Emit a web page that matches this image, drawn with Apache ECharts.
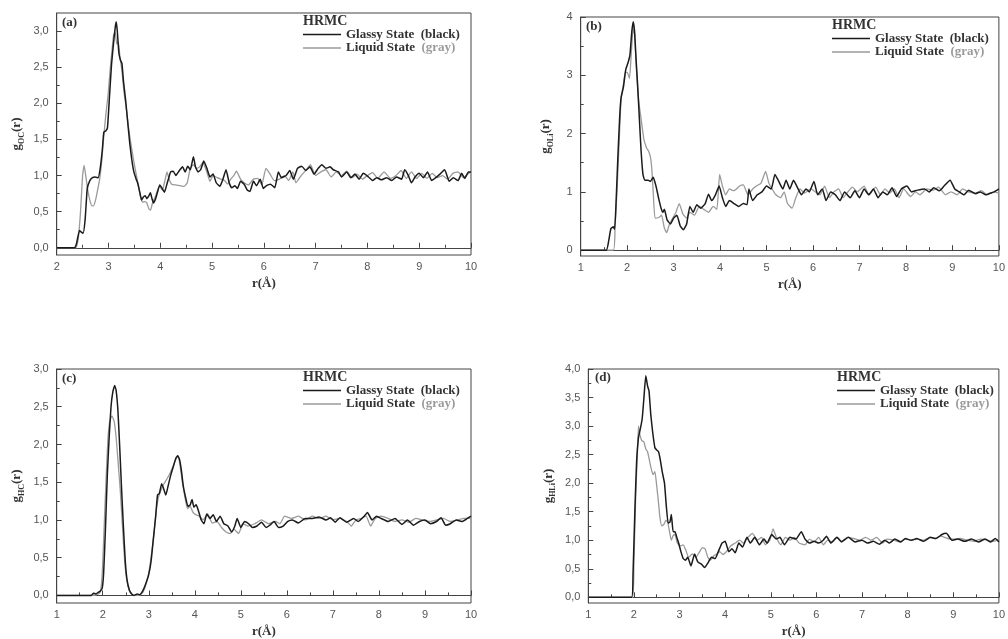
<!DOCTYPE html>
<html>
<head>
<meta charset="utf-8">
<script src="https://cdn.jsdelivr.net/npm/echarts@6/dist/echarts.min.js"></script>
<style>
  html, body { margin: 0; padding: 0; background: #fff; }
  #chart { width: 1008px; height: 639px; }
</style>
</head>
<body>
<div id="chart"></div>
<script>
// Partial pair distribution functions g(r), HRMC models: [r (Å), g(r)]

// (a) O–C
const gOC_glassy = [[2,0],[2.34,0],[2.38,0.05],[2.44,0.24],[2.47,0.22],[2.51,0.2],[2.55,0.4],[2.59,0.82],[2.64,0.93],[2.69,0.97],[2.74,0.98],[2.8,0.97],[2.84,1.1],[2.88,1.35],[2.91,1.6],[2.95,1.62],[2.98,1.66],[3.02,2.1],[3.06,2.55],[3.1,2.85],[3.13,3.05],[3.15,3.13],[3.17,3.0],[3.2,2.7],[3.23,2.6],[3.26,2.55],[3.29,2.3],[3.33,2.05],[3.37,1.75],[3.41,1.45],[3.45,1.22],[3.49,1.05],[3.53,0.96],[3.57,0.88],[3.61,0.75],[3.64,0.66],[3.67,0.7],[3.71,0.72],[3.74,0.68],[3.78,0.72],[3.81,0.76],[3.84,0.68],[3.87,0.62],[3.91,0.68],[3.95,0.78],[3.99,0.87],[4.03,0.83],[4.08,0.77],[4.12,0.86],[4.16,0.96],[4.2,1.05],[4.25,1.06],[4.3,1.0],[4.34,1.04],[4.38,1.08],[4.43,1.12],[4.48,1.05],[4.53,1.13],[4.58,1.08],[4.64,1.26],[4.68,1.12],[4.73,1.05],[4.78,1.08],[4.84,1.2],[4.9,1.1],[4.96,0.98],[5.02,1.02],[5.08,0.9],[5.15,0.85],[5.21,0.95],[5.27,1.08],[5.33,0.9],[5.38,0.83],[5.44,0.86],[5.49,0.82],[5.55,0.92],[5.62,0.88],[5.68,0.8],[5.73,0.78],[5.8,0.92],[5.86,0.86],[5.93,0.95],[5.99,0.82],[6.05,0.86],[6.13,0.88],[6.21,0.83],[6.28,1.05],[6.34,0.97],[6.43,1.0],[6.5,1.07],[6.57,0.95],[6.65,1.1],[6.73,1.13],[6.81,1.07],[6.89,1.12],[6.97,1.02],[7.05,1.1],[7.12,1.15],[7.2,1.1],[7.28,1.12],[7.34,1.08],[7.44,1.05],[7.5,0.98],[7.6,1.05],[7.68,0.97],[7.76,1.02],[7.84,0.95],[7.92,1.03],[8.02,0.98],[8.1,0.93],[8.18,0.97],[8.27,0.94],[8.37,0.97],[8.47,0.93],[8.56,0.98],[8.66,0.95],[8.72,1.08],[8.79,1.0],[8.85,0.9],[8.92,0.98],[9.0,1.03],[9.08,0.97],[9.16,1.05],[9.24,0.93],[9.32,0.97],[9.4,1.02],[9.49,1.08],[9.58,0.92],[9.66,0.97],[9.75,0.93],[9.82,1.03],[9.88,0.96],[9.95,1.05],[10,1.05]];
const gOC_liquid = [[2,0],[2.37,0],[2.42,0.15],[2.46,0.5],[2.5,1.0],[2.53,1.14],[2.56,1.0],[2.6,0.8],[2.64,0.66],[2.68,0.58],[2.71,0.58],[2.75,0.66],[2.79,0.8],[2.83,0.95],[2.87,1.2],[2.91,1.55],[2.95,1.85],[2.99,2.1],[3.03,2.45],[3.07,2.75],[3.1,2.95],[3.13,2.98],[3.16,2.82],[3.19,2.85],[3.22,2.65],[3.26,2.45],[3.3,2.15],[3.34,1.95],[3.38,1.7],[3.42,1.5],[3.46,1.32],[3.5,1.15],[3.54,1.0],[3.58,0.85],[3.62,0.7],[3.66,0.63],[3.7,0.64],[3.74,0.62],[3.78,0.54],[3.81,0.52],[3.85,0.62],[3.9,0.7],[3.95,0.8],[3.99,0.85],[4.04,0.8],[4.09,0.93],[4.13,1.05],[4.17,0.95],[4.22,0.88],[4.3,0.87],[4.38,0.86],[4.46,0.85],[4.52,0.9],[4.58,1.1],[4.64,1.15],[4.7,1.1],[4.76,1.12],[4.82,1.18],[4.9,1.05],[4.96,0.92],[5.02,1.0],[5.1,0.97],[5.17,0.95],[5.24,0.93],[5.3,0.88],[5.36,0.95],[5.42,1.0],[5.47,1.06],[5.55,0.95],[5.62,0.9],[5.7,0.87],[5.8,0.95],[5.88,0.96],[5.96,0.87],[6.04,1.1],[6.12,1.02],[6.2,0.93],[6.3,0.95],[6.4,1.0],[6.48,0.93],[6.56,1.05],[6.62,0.9],[6.72,1.0],[6.82,1.08],[6.9,1.15],[7.0,1.0],[7.1,1.05],[7.2,1.08],[7.3,0.98],[7.4,1.05],[7.5,1.0],[7.6,1.06],[7.7,0.97],[7.8,1.02],[7.9,0.95],[8.0,1.0],[8.1,1.04],[8.2,0.96],[8.32,1.05],[8.45,0.96],[8.55,1.0],[8.65,1.07],[8.75,0.96],[8.85,1.05],[8.95,0.96],[9.05,1.03],[9.15,0.96],[9.25,1.03],[9.35,0.97],[9.45,1.0],[9.55,0.95],[9.65,1.03],[9.75,1.05],[9.85,0.97],[9.95,1.03],[10,1.05]];

// (b) O–Li
const gOLi_glassy = [[1,0],[1.55,0],[1.6,0.15],[1.65,0.37],[1.7,0.4],[1.73,0.36],[1.76,0.8],[1.8,1.6],[1.84,2.3],[1.87,2.62],[1.92,2.8],[1.97,3.1],[2.02,3.22],[2.06,3.35],[2.1,3.75],[2.13,3.92],[2.16,3.75],[2.19,3.3],[2.22,2.9],[2.26,2.3],[2.3,1.7],[2.34,1.3],[2.38,1.2],[2.45,1.2],[2.5,1.18],[2.56,1.25],[2.62,1.1],[2.68,0.88],[2.73,0.72],[2.77,0.65],[2.8,0.7],[2.86,0.52],[2.93,0.45],[3.0,0.55],[3.07,0.6],[3.14,0.42],[3.21,0.35],[3.28,0.45],[3.35,0.75],[3.42,0.65],[3.5,0.78],[3.58,0.72],[3.68,0.8],[3.75,0.96],[3.82,0.85],[3.9,0.95],[3.98,1.1],[4.05,0.9],[4.12,0.75],[4.2,0.85],[4.3,0.8],[4.4,0.75],[4.5,0.8],[4.58,0.78],[4.62,1.05],[4.7,0.85],[4.8,0.95],[4.9,1.0],[5.0,1.1],[5.1,1.05],[5.18,1.3],[5.25,1.2],[5.35,1.05],[5.42,1.2],[5.5,1.05],[5.58,1.2],[5.68,1.05],[5.75,0.95],[5.85,1.05],[5.92,1.0],[6.02,1.18],[6.1,0.95],[6.2,1.05],[6.28,0.85],[6.38,1.0],[6.48,0.95],[6.58,0.85],[6.68,1.0],[6.8,0.9],[6.9,1.02],[7.0,0.9],[7.1,1.05],[7.2,0.95],[7.3,1.05],[7.4,0.9],[7.5,1.0],[7.6,0.95],[7.7,1.07],[7.8,0.92],[7.9,1.05],[8.02,1.1],[8.12,1.0],[8.25,1.03],[8.4,1.05],[8.5,1.0],[8.6,1.07],[8.72,1.02],[8.82,1.1],[8.95,1.2],[9.05,1.05],[9.15,1.0],[9.25,0.95],[9.35,1.03],[9.5,0.97],[9.6,1.0],[9.72,0.95],[9.82,0.98],[9.9,1.0],[10,1.05]];
const gOLi_liquid = [[1,0],[1.7,0],[1.74,0.4],[1.78,1.0],[1.83,1.9],[1.87,2.6],[1.92,2.85],[1.96,3.05],[2.0,3.05],[2.05,2.95],[2.09,3.4],[2.13,3.8],[2.16,3.7],[2.2,3.1],[2.25,2.55],[2.3,2.25],[2.36,1.9],[2.42,1.75],[2.46,1.7],[2.5,1.6],[2.53,1.4],[2.56,1.0],[2.6,0.55],[2.68,0.56],[2.74,0.6],[2.8,0.38],[2.85,0.3],[2.9,0.42],[2.98,0.55],[3.05,0.65],[3.12,0.8],[3.2,0.62],[3.28,0.55],[3.35,0.65],[3.45,0.6],[3.55,0.75],[3.65,0.7],[3.75,0.65],[3.85,0.75],[3.93,0.7],[3.99,1.3],[4.05,1.1],[4.12,0.95],[4.2,1.05],[4.3,1.02],[4.42,1.1],[4.5,1.12],[4.6,0.95],[4.7,1.05],[4.78,1.1],[4.88,1.15],[4.98,1.35],[5.05,1.15],[5.12,1.05],[5.2,0.95],[5.3,0.9],[5.38,1.0],[5.45,0.8],[5.55,0.72],[5.63,0.9],[5.72,1.05],[5.82,0.98],[5.95,1.05],[6.05,1.0],[6.15,0.95],[6.25,1.1],[6.35,0.9],[6.45,1.0],[6.55,1.05],[6.65,0.9],[6.75,1.0],[6.85,1.08],[6.95,1.0],[7.1,1.1],[7.2,0.95],[7.35,1.08],[7.45,0.95],[7.55,1.05],[7.65,0.98],[7.75,1.05],[7.85,0.9],[7.95,1.05],[8.1,0.92],[8.2,1.0],[8.3,0.95],[8.45,1.05],[8.6,1.03],[8.7,1.08],[8.85,0.95],[8.97,1.0],[9.1,0.95],[9.22,1.05],[9.35,1.0],[9.5,0.98],[9.62,1.02],[9.75,0.95],[9.9,1.0],[10,0.98]];

// (c) H–C
const gHC_glassy = [[1,0],[1.75,0],[1.8,0.03],[1.85,0.02],[1.9,0.04],[1.95,0.06],[1.99,0.1],[2.02,0.3],[2.06,0.9],[2.1,1.6],[2.14,2.1],[2.18,2.5],[2.22,2.7],[2.26,2.78],[2.29,2.72],[2.33,2.45],[2.37,1.95],[2.41,1.4],[2.45,0.9],[2.49,0.45],[2.53,0.2],[2.58,0.07],[2.63,0.02],[2.68,0.0],[2.75,0.02],[2.8,0.01],[2.85,0.04],[2.9,0.1],[2.95,0.18],[3.0,0.28],[3.05,0.45],[3.1,0.75],[3.15,1.05],[3.19,1.33],[3.23,1.35],[3.28,1.48],[3.32,1.42],[3.37,1.33],[3.42,1.45],[3.48,1.6],[3.54,1.72],[3.59,1.82],[3.63,1.85],[3.67,1.8],[3.71,1.65],[3.75,1.45],[3.8,1.3],[3.85,1.18],[3.9,1.2],[3.94,1.27],[3.98,1.17],[4.03,1.2],[4.08,1.12],[4.14,1.0],[4.2,0.95],[4.26,1.08],[4.33,1.02],[4.4,1.07],[4.47,0.98],[4.55,1.05],[4.63,0.95],[4.72,0.92],[4.8,0.84],[4.87,0.92],[4.92,1.02],[5.0,0.9],[5.08,0.98],[5.17,0.95],[5.25,0.9],[5.35,0.92],[5.45,0.97],[5.55,0.9],[5.63,0.93],[5.72,0.98],[5.82,0.9],[5.92,0.92],[6.02,0.98],[6.12,1.0],[6.25,0.96],[6.4,1.02],[6.55,1.02],[6.7,1.04],[6.85,1.0],[6.95,1.03],[7.05,0.97],[7.15,1.03],[7.3,0.97],[7.45,1.02],[7.55,0.98],[7.68,1.05],[7.75,1.1],[7.85,1.0],[7.95,1.05],[8.05,1.02],[8.2,0.98],[8.35,1.02],[8.5,0.94],[8.62,1.0],[8.75,0.93],[8.88,0.98],[9.0,1.0],[9.12,0.95],[9.25,0.98],[9.35,1.03],[9.45,0.93],[9.55,0.95],[9.68,1.0],[9.8,0.98],[9.92,1.02],[10,1.05]];
const gHC_liquid = [[1,0],[1.8,0],[1.9,0.02],[1.95,0.05],[1.99,0.3],[2.03,0.9],[2.07,1.5],[2.11,2.05],[2.15,2.3],[2.2,2.38],[2.25,2.3],[2.29,2.1],[2.33,1.8],[2.38,1.4],[2.42,1.0],[2.46,0.6],[2.5,0.3],[2.55,0.12],[2.6,0.04],[2.67,0.0],[2.75,0.0],[2.82,0.01],[2.88,0.05],[2.94,0.15],[3.0,0.3],[3.06,0.55],[3.11,0.8],[3.16,1.1],[3.21,1.3],[3.27,1.4],[3.33,1.48],[3.4,1.55],[3.47,1.63],[3.54,1.73],[3.6,1.82],[3.64,1.84],[3.68,1.72],[3.73,1.5],[3.78,1.32],[3.84,1.15],[3.9,1.18],[3.96,1.1],[4.02,1.07],[4.1,1.05],[4.18,1.0],[4.28,1.08],[4.38,0.96],[4.48,0.98],[4.58,0.9],[4.68,0.84],[4.77,0.82],[4.85,0.88],[4.95,0.82],[5.05,0.95],[5.15,0.92],[5.3,0.95],[5.45,1.0],[5.6,0.95],[5.75,0.98],[5.85,0.95],[5.95,1.05],[6.1,1.02],[6.25,1.05],[6.4,1.0],[6.55,1.05],[6.7,1.02],[6.85,1.05],[7.0,1.0],[7.15,1.02],[7.3,0.98],[7.4,0.92],[7.5,1.0],[7.62,1.02],[7.72,1.05],[7.82,0.92],[7.92,1.02],[8.05,1.05],[8.2,1.02],[8.35,0.98],[8.5,1.0],[8.65,0.97],[8.8,1.02],[8.95,1.0],[9.1,0.98],[9.25,1.0],[9.4,1.02],[9.55,0.98],[9.7,1.0],[9.85,1.02],[10,1.02]];

// (d) H–Li
const gHLi_glassy = [[1,0],[1.95,0],[1.98,0.4],[2.02,1.5],[2.06,2.4],[2.1,2.8],[2.14,2.95],[2.18,3.12],[2.22,3.5],[2.26,3.88],[2.3,3.7],[2.33,3.62],[2.37,3.2],[2.41,2.9],[2.46,2.62],[2.5,2.58],[2.54,2.55],[2.58,2.4],[2.62,2.2],[2.67,2.0],[2.71,1.6],[2.75,1.3],[2.79,1.32],[2.82,1.45],[2.86,1.15],[2.9,1.15],[2.94,1.05],[2.98,0.95],[3.03,0.8],[3.08,0.68],[3.13,0.65],[3.18,0.7],[3.25,0.55],[3.33,0.76],[3.4,0.62],[3.48,0.58],[3.55,0.52],[3.62,0.6],[3.7,0.7],[3.78,0.68],[3.85,0.8],[3.93,0.95],[4.0,0.98],[4.08,0.8],[4.15,0.85],[4.22,0.78],[4.3,0.95],[4.38,0.88],[4.48,1.05],[4.55,0.95],[4.65,1.05],[4.75,0.92],[4.85,1.02],[4.92,0.95],[5.02,1.1],[5.12,1.02],[5.2,1.05],[5.3,0.92],[5.42,1.05],[5.55,1.02],[5.67,1.15],[5.75,1.02],[5.85,0.95],[5.95,0.98],[6.05,0.95],[6.15,1.0],[6.22,1.07],[6.32,0.95],[6.45,1.05],[6.55,0.97],[6.7,1.05],[6.85,0.97],[7.0,1.0],[7.12,0.95],[7.25,0.98],[7.38,0.93],[7.5,1.0],[7.6,0.95],[7.72,1.02],[7.85,0.97],[7.95,1.03],[8.08,1.0],[8.2,1.03],[8.35,0.98],[8.5,1.05],[8.62,1.03],[8.75,1.1],[8.85,1.12],[8.97,1.0],[9.1,1.02],[9.25,0.98],[9.4,1.02],[9.55,0.97],[9.7,1.02],[9.82,0.97],[9.92,1.03],[10,0.97]];
const gHLi_liquid = [[1,0],[1.97,0],[2.0,0.6],[2.04,1.8],[2.08,2.6],[2.1,3.0],[2.13,2.85],[2.17,2.75],[2.22,2.72],[2.26,2.6],[2.3,2.55],[2.34,2.4],[2.38,2.25],[2.42,2.15],[2.46,2.2],[2.5,1.95],[2.54,1.65],[2.57,1.4],[2.61,1.25],[2.66,1.28],[2.7,1.35],[2.74,1.32],[2.78,1.15],[2.82,1.0],[2.86,1.08],[2.9,1.1],[2.95,0.95],[3.02,0.9],[3.08,0.92],[3.14,0.82],[3.2,0.7],[3.28,0.76],[3.36,0.7],[3.44,0.8],[3.5,0.87],[3.56,0.85],[3.62,0.7],[3.68,0.65],[3.74,0.72],[3.8,0.75],[3.88,0.8],[3.95,0.75],[4.05,0.82],[4.12,0.9],[4.22,0.95],[4.32,1.0],[4.4,0.95],[4.5,1.05],[4.6,1.12],[4.7,1.0],[4.8,1.05],[4.88,0.92],[4.98,1.0],[5.05,1.2],[5.12,1.05],[5.22,0.92],[5.32,1.05],[5.42,1.0],[5.52,1.05],[5.62,0.95],[5.75,0.92],[5.85,1.02],[5.95,0.97],[6.05,1.05],[6.15,0.92],[6.25,1.0],[6.35,0.97],[6.45,1.05],[6.55,0.98],[6.68,1.05],[6.82,1.03],[6.95,1.0],[7.08,1.05],[7.2,1.0],[7.32,1.05],[7.45,0.95],[7.55,1.02],[7.7,1.0],[7.82,0.97],[7.95,1.02],[8.08,1.0],[8.22,1.02],[8.35,1.0],[8.48,1.05],[8.6,1.03],[8.72,1.07],[8.88,1.03],[9.0,1.02],[9.15,1.03],[9.3,1.0],[9.45,0.98],[9.6,1.02],[9.75,1.0],[9.88,0.98],[10,1.02]];

// Axis ticks and labels
const panelTags = ['(a)', '(b)', '(c)', '(d)'];
const pairSubscripts = ['OC', 'OLi', 'HC', 'HLi'];
const rStart = [2, 1, 1, 1];
const rEnd = 10;
const gMin = [-0.1, -0.1, -0.1, -0.1];
const gMax = [3.25, 4, 3.0, 4.0];
const gMajorTicks = [
  [0, 0.5, 1.0, 1.5, 2.0, 2.5, 3.0],
  [0, 1, 2, 3, 4],
  [0, 0.5, 1.0, 1.5, 2.0, 2.5, 3.0],
  [0, 0.5, 1.0, 1.5, 2.0, 2.5, 3.0, 3.5, 4.0]
];
const gMinorTicks = [
  [0.25, 0.75, 1.25, 1.75, 2.25, 2.75],
  [0.5, 1.5, 2.5, 3.5],
  [0.25, 0.75, 1.25, 1.75, 2.25, 2.75],
  [0.25, 0.75, 1.25, 1.75, 2.25, 2.75, 3.25, 3.75]
];
const gLabelDecimals = [1, 0, 1, 1];
const legendNames = ['Glassy State', 'Liquid State'];
const headerText = 'HRMC';

const glassyData = [gOC_glassy, gOLi_glassy, gHC_glassy, gHLi_glassy];
const liquidData = [gOC_liquid, gOLi_liquid, gHC_liquid, gHLi_liquid];

// Panel placement on the page
const frames = [
  { left: 56.7,  top: 13,  width: 414.3, height: 242, nameGap: 31 },
  { left: 580.7, top: 17,  width: 421.3, height: 239, nameGap: 26 },
  { left: 56.7,  top: 369, width: 414.3, height: 238, nameGap: 31 },
  { left: 588.3, top: 369, width: 413.7, height: 238, nameGap: 31 }
];
const legendPos = [
  { hx: 303, hy: 14, lx: 303, ly: 28, tx: 62,  ty: 16 },
  { hx: 832, hy: 18, lx: 832, ly: 32, tx: 586, ty: 20 },
  { hx: 303, hy: 370, lx: 303, ly: 384, tx: 62,  ty: 372 },
  { hx: 837, hy: 370, lx: 837, ly: 384, tx: 595, ty: 371 }
];

const AXIS = '#444';
const LABEL = '#555';
const SERIF = '"Liberation Serif", "Times New Roman", serif';
const SANS = '"Liberation Sans", Arial, sans-serif';
const BLACK = '#1b1b1b';
const GRAY = '#9a9a9a';

const grids = [], xAxes = [], yAxes = [], series = [], titles = [], legends = [];

frames.forEach((f, i) => {
  grids.push({
    left: f.left, top: f.top, width: f.width, height: f.height,
    show: true, borderColor: AXIS, borderWidth: 1, backgroundColor: 'transparent'
  });

  xAxes.push({
    gridIndex: i, type: 'value', min: rStart[i], max: rEnd, interval: 1,
    axisLine: { show: true, lineStyle: { color: AXIS, width: 1 } },
    axisTick: { show: true, inside: true, length: 5, lineStyle: { color: AXIS } },
    minorTick: { show: true, splitNumber: 2, length: 3, lineStyle: { color: AXIS } },
    axisLabel: { color: LABEL, fontFamily: SANS, fontSize: 11, margin: 6 },
    splitLine: { show: false },
    name: 'r(Å)', nameLocation: 'middle', nameGap: 22,
    nameTextStyle: { fontFamily: SERIF, fontWeight: 'bold', fontSize: 13, color: '#333' }
  });

  const dec = gLabelDecimals[i];
  yAxes.push({
    gridIndex: i, type: 'value', min: gMin[i], max: gMax[i], position: 'left',
    axisLine: { show: true, lineStyle: { color: AXIS, width: 1 } },
    axisTick: { show: true, inside: true, length: 5, customValues: gMajorTicks[i], lineStyle: { color: AXIS } },
    axisLabel: {
      customValues: gMajorTicks[i], color: LABEL, fontFamily: SANS, fontSize: 11, margin: 8,
      formatter: v => v.toFixed(dec).replace('.', ',')
    },
    splitLine: { show: false },
    name: '{m|g}{s|' + pairSubscripts[i] + '}{m|(r)}', nameLocation: 'middle', nameGap: f.nameGap,
    nameTextStyle: {
      fontFamily: SERIF, fontWeight: 'bold', fontSize: 13, color: '#333',
      rich: {
        m: { fontFamily: SERIF, fontWeight: 'bold', fontSize: 13, color: '#333', lineHeight: 18, verticalAlign: 'middle' },
        s: { fontFamily: SERIF, fontWeight: 'bold', fontSize: 8, color: '#333', lineHeight: 18, verticalAlign: 'bottom' }
      }
    }
  });
  // companion axis carrying only the short minor ticks
  yAxes.push({
    gridIndex: i, type: 'value', min: gMin[i], max: gMax[i], position: 'left',
    axisLine: { show: false },
    axisTick: { show: true, inside: true, length: 3, customValues: gMinorTicks[i], lineStyle: { color: AXIS } },
    axisLabel: { show: false },
    splitLine: { show: false }
  });

  series.push({
    name: legendNames[1], type: 'line', xAxisIndex: i, yAxisIndex: 2 * i,
    data: liquidData[i], symbol: 'none', smooth: 0.15,
    lineStyle: { color: GRAY, width: 1.3 }, itemStyle: { color: GRAY }
  });
  series.push({
    name: legendNames[0], type: 'line', xAxisIndex: i, yAxisIndex: 2 * i,
    data: glassyData[i], symbol: 'none', smooth: 0.15,
    lineStyle: { color: BLACK, width: 1.5 }, itemStyle: { color: BLACK }
  });

  const p = legendPos[i];
  titles.push({
    text: headerText, left: p.hx, top: p.hy, padding: 0,
    textStyle: { fontFamily: SERIF, fontWeight: 'bold', fontSize: 14, color: '#333' }
  });
  titles.push({
    text: panelTags[i], left: p.tx, top: p.ty, padding: 0,
    textStyle: { fontFamily: SERIF, fontWeight: 'bold', fontSize: 13, color: '#333' }
  });

  legends.push({
    data: legendNames, orient: 'vertical', left: p.lx, top: p.ly, padding: 0,
    icon: 'rect', itemWidth: 38, itemHeight: 1.4, itemGap: 0.5, selectedMode: false,
    formatter: name => name === legendNames[0]
      ? '{t|Glassy State}  {k|(black)}'
      : '{t|Liquid State}  {g|(gray)}',
    textStyle: {
      fontFamily: SERIF, fontWeight: 'bold', fontSize: 13, color: '#333',
      rich: {
        t: { fontFamily: SERIF, fontWeight: 'bold', fontSize: 13, color: '#333', lineHeight: 14 },
        k: { fontFamily: SERIF, fontWeight: 'bold', fontSize: 13, color: '#333', lineHeight: 14 },
        g: { fontFamily: SERIF, fontWeight: 'bold', fontSize: 13, color: '#9a9a9a', lineHeight: 14 }
      }
    }
  });
});

const chart = echarts.init(document.getElementById('chart'), null, { renderer: 'canvas' });
chart.setOption({
  animation: false,
  backgroundColor: '#fff',
  title: titles,
  legend: legends,
  grid: grids,
  xAxis: xAxes,
  yAxis: yAxes,
  series: series
});
</script>
</body>
</html>
